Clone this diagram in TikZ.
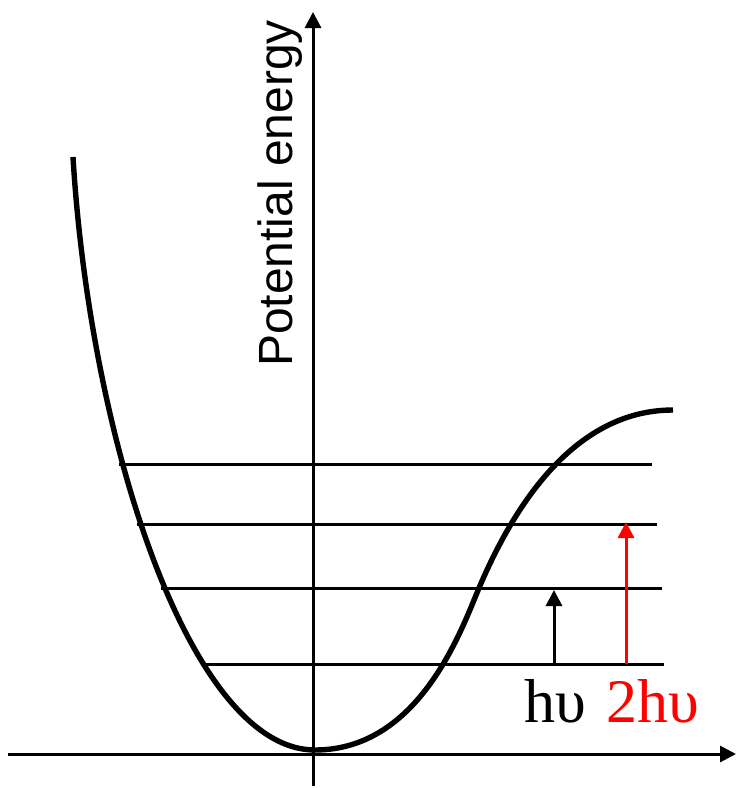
\documentclass[tikz,border=0pt]{standalone}
\usepackage{fontspec}
\setmainfont{Liberation Serif}
\newfontfamily\labelsans{Liberation Sans}
\usetikzlibrary{arrows.meta}
\begin{document}
\begin{tikzpicture}[x=1pt,y=-1pt,
  axis/.style={line width=3pt,-{Triangle[length=16pt,width=16pt]}},
  level/.style={line width=3pt},
  curve/.style={line width=5.4pt},
  trans/.style={line width=3pt,-{Triangle[length=16pt,width=16pt]}},
  serlab/.style={inner sep=0pt,anchor=base west,font=\fontsize{62}{62}\selectfont}]
\useasboundingbox (0,0) rectangle (736,788);
% axes
\coordinate (xa0) at (8,754);
\coordinate (xa1) at (736,754);
\coordinate (ya0) at (313,786);
\coordinate (ya1) at (313,12);
\draw[axis] (xa0) -- (xa1);
\draw[axis] (ya0) -- (ya1);
% energy levels
\coordinate (l1a) at (119,464); \coordinate (l1b) at (652,464);
\coordinate (l2a) at (137,524); \coordinate (l2b) at (657,524);
\coordinate (l3a) at (161,588); \coordinate (l3b) at (662,588);
\coordinate (l4a) at (202,664); \coordinate (l4b) at (664,664);
\draw[level] (l1a) -- (l1b);
\draw[level] (l2a) -- (l2b);
\draw[level] (l3a) -- (l3b);
\draw[level] (l4a) -- (l4b);
% potential curve
\coordinate (cTop) at (73,157);
\coordinate (cMin) at (315,750);
\coordinate (cInf) at (479,588);
\coordinate (cEnd) at (673,410);
\draw[curve] (cTop) .. controls (90,440) and (190,750) .. (cMin)
  .. controls (420,750) and (462,628) .. (cInf)
  .. controls (510,515) and (570,410) .. (cEnd);
% transitions
\coordinate (b0) at (554,664); \coordinate (b1) at (554,590);
\coordinate (r0) at (626,664); \coordinate (r1) at (626,522);
\draw[trans] (b0) -- (b1);
\draw[trans,red] (r0) -- (r1);
% labels
\node[serlab] (hv) at (524,722) {hυ};
\node[serlab,text=red] (hv2) at (606,722) {2hυ};
\node[inner sep=0pt,anchor=base west,rotate=90,font=\labelsans\fontsize{48}{48}\selectfont] (pe) at (292,367) {Potential energy};
\end{tikzpicture}
\end{document}
